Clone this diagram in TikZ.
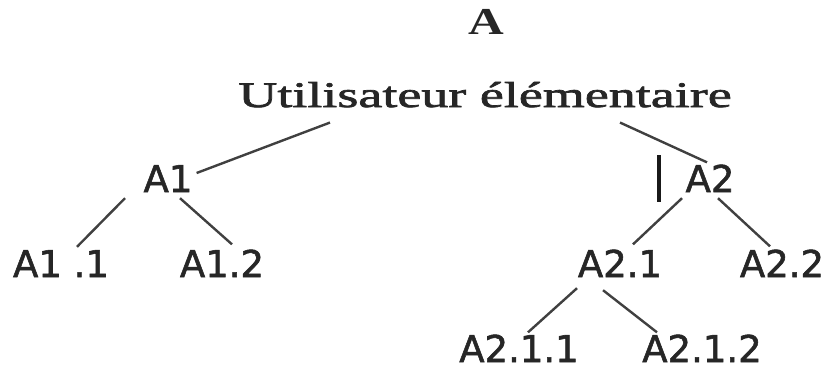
\documentclass[tikz,border=0pt]{standalone}
\usepackage{fontspec}
\setmainfont{Liberation Serif}
\newfontfamily\titlefont[FakeStretch=1.5,FakeBold=2]{Liberation Serif}
\newfontfamily\topfont[FakeStretch=1.3]{Liberation Serif Bold}
\newfontfamily\labfont[FakeBold=1.5]{DejaVu Sans}
\begin{document}
\begin{tikzpicture}[x=1pt,y=-1pt,
  lab/.style={anchor=base,inner sep=0pt,font=\labfont\fontsize{37}{40}\selectfont,text=black!85},
  edge/.style={line width=2.4pt,draw=black!75}]
\useasboundingbox (0,0) rectangle (835,369);
\node[anchor=base,inner sep=0pt,font=\topfont\fontsize{38}{40}\selectfont,text=black!85] (a) at (486,35) {A};
\node[anchor=base,inner sep=0pt,font=\titlefont\fontsize{36}{40}\selectfont,text=black!85] (t) at (485,107) {Utilisateur élémentaire};
\node[lab] (a1) at (168,192) {A1};
\node[lab] (a2) at (710,192) {A2};
\node[lab] (a11) at (61,277) {A1 .1};
\node[lab] (a12) at (222,277) {A1.2};
\node[lab] (a21) at (620,277) {A2.1};
\node[lab] (a22) at (782,277) {A2.2};
\node[lab] (a211) at (519,362) {A2.1.1};
\node[lab] (a212) at (702,362) {A2.1.2};
\draw[edge] ([shift={(-155,15)}]t.south) -- ([shift={(4,-5.5)}]a1.east);
\draw[edge] ([shift={(135,15)}]t.south) -- ([shift={(-3,-2)}]a2.north);
\draw[edge] ([shift={(-43,6)}]a1.south) -- ([shift={(16,-3)}]a11.north);
\draw[edge] ([shift={(12,6)}]a1.south) -- ([shift={(10,-5)}]a12.north);
\draw[edge] ([shift={(-28,6)}]a2.south) -- ([shift={(13,-5)}]a21.north);
\draw[edge] ([shift={(8,6)}]a2.south) -- ([shift={(-12,-3)}]a22.north);
\draw[edge] ([shift={(-43,11)}]a21.south) -- ([shift={(9,-2)}]a211.north);
\draw[edge] ([shift={(-17,13)}]a21.south) -- ([shift={(-45,-2)}]a212.north);
\draw[line width=4.5pt,draw=black!90] (659,155) -- (659,202);
\end{tikzpicture}
\end{document}
